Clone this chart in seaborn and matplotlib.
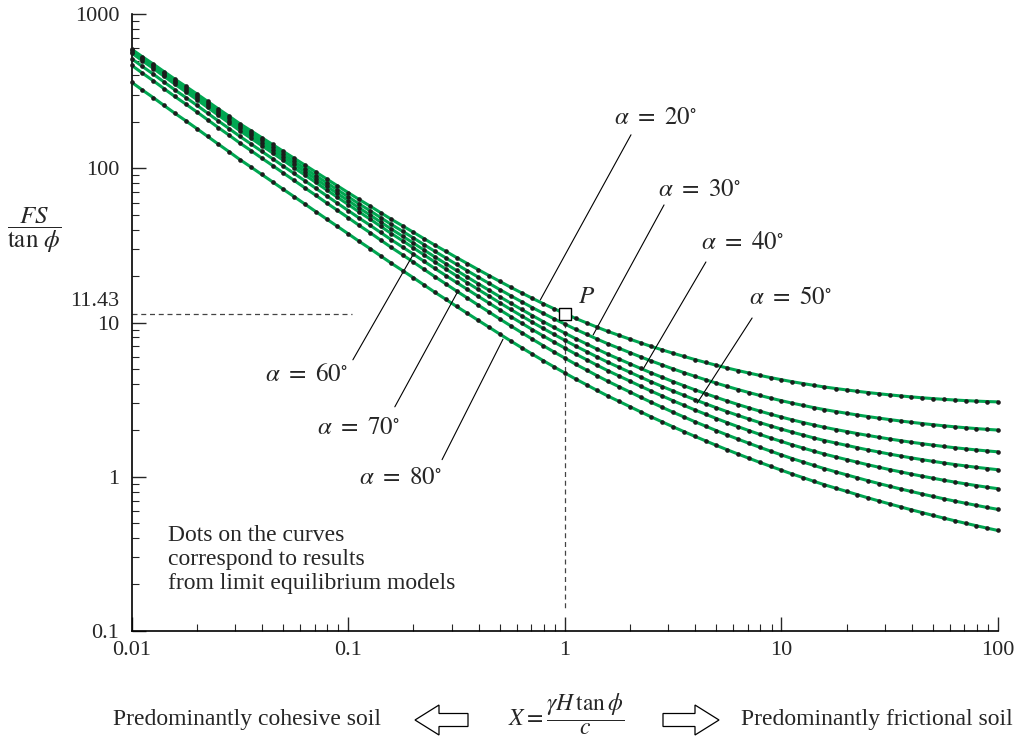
import numpy as np
import pandas as pd
import matplotlib
matplotlib.use('Agg')
import matplotlib.pyplot as plt
import seaborn as sns
from matplotlib.patches import FancyArrow
from matplotlib.ticker import LogLocator, NullFormatter

# X = gamma H tan(phi) / c, one point every 0.05 decade
x_vals = [0.01, 0.0112, 0.0126, 0.0141, 0.0158, 0.0178, 0.02, 0.0224, 0.0251, 0.0282,
          0.0316, 0.0355, 0.0398, 0.0447, 0.0501, 0.0562, 0.0631, 0.0708, 0.0794, 0.0891,
          0.1, 0.112, 0.126, 0.141, 0.158, 0.178, 0.2, 0.224, 0.251, 0.282,
          0.316, 0.355, 0.398, 0.447, 0.501, 0.562, 0.631, 0.708, 0.794, 0.891,
          1, 1.12, 1.26, 1.41, 1.58, 1.78, 2, 2.24, 2.51, 2.82,
          3.16, 3.55, 3.98, 4.47, 5.01, 5.62, 6.31, 7.08, 7.94, 8.91,
          10, 11.2, 12.6, 14.1, 15.8, 17.8, 20, 22.4, 25.1, 28.2,
          31.6, 35.5, 39.8, 44.7, 50.1, 56.2, 63.1, 70.8, 79.4, 89.1,
          100]

# FS / tan(phi)
fs_a20 = [591.6, 529.4, 473.7, 423.9, 379.3, 339.4, 303.7, 271.8, 243.2, 217.6,
          194.5, 175.5, 158.3, 142.8, 128.9, 116.3, 104.9, 94.6, 85.4, 77.0,
          69.5, 62.89, 56.93, 51.57, 46.73, 42.37, 38.45, 34.94, 31.78, 28.95,
          26.40, 24.10, 22.03, 20.15, 18.47, 16.94, 15.57, 14.35, 13.26, 12.29,
          11.43, 10.64, 9.945, 9.320, 8.758, 8.252, 7.795, 7.376, 6.992, 6.641,
          6.320, 6.025, 5.755, 5.507, 5.279, 5.071, 4.879, 4.703, 4.542, 4.393,
          4.257, 4.132, 4.018, 3.914, 3.819, 3.733, 3.654, 3.581, 3.514, 3.452,
          3.395, 3.342, 3.294, 3.250, 3.211, 3.176, 3.144, 3.117, 3.093, 3.073,
          3.057]
fs_a30 = [582.1, 519.9, 464.4, 414.8, 370.5, 330.9, 295.6, 264.0, 235.8, 210.6,
          188.1, 169.2, 152.2, 136.9, 123.2, 110.8, 99.7, 89.7, 80.7, 72.6,
          65.3, 58.89, 53.12, 47.94, 43.28, 39.08, 35.33, 31.96, 28.95, 26.25,
          23.83, 21.65, 19.69, 17.93, 16.35, 14.92, 13.64, 12.50, 11.48, 10.58,
          9.767, 9.040, 8.389, 7.804, 7.278, 6.804, 6.374, 5.983, 5.626, 5.300,
          5.003, 4.730, 4.481, 4.252, 4.043, 3.850, 3.674, 3.514, 3.367, 3.234,
          3.112, 3.001, 2.899, 2.807, 2.724, 2.648, 2.579, 2.515, 2.455, 2.399,
          2.347, 2.298, 2.254, 2.212, 2.174, 2.139, 2.107, 2.078, 2.052, 2.028,
          2.007]
fs_a40 = [571.5, 509.7, 454.6, 405.5, 361.6, 322.5, 287.7, 256.6, 228.8, 204.1,
          182.0, 163.3, 146.6, 131.5, 118.0, 105.9, 95.1, 85.3, 76.6, 68.7,
          61.7, 55.43, 49.85, 44.85, 40.36, 36.33, 32.72, 29.51, 26.63, 24.06,
          21.76, 19.69, 17.84, 16.18, 14.69, 13.35, 12.15, 11.09, 10.14, 9.294,
          8.540, 7.864, 7.260, 6.717, 6.230, 5.791, 5.395, 5.034, 4.707, 4.409,
          4.138, 3.890, 3.664, 3.457, 3.269, 3.096, 2.938, 2.794, 2.663, 2.544,
          2.436, 2.337, 2.247, 2.165, 2.091, 2.024, 1.963, 1.905, 1.852, 1.802,
          1.756, 1.713, 1.673, 1.637, 1.603, 1.571, 1.542, 1.516, 1.492, 1.470,
          1.450]
fs_a50 = [559.7, 498.4, 443.7, 395.1, 351.8, 313.2, 278.9, 248.3, 221.1, 196.9,
          175.2, 156.9, 140.5, 125.9, 112.7, 100.9, 90.4, 81.0, 72.5, 64.9,
          58.2, 52.22, 46.86, 42.06, 37.76, 33.92, 30.48, 27.42, 24.69, 22.25,
          20.07, 18.12, 16.38, 14.82, 13.42, 12.16, 11.04, 10.04, 9.159, 8.371,
          7.669, 7.041, 6.480, 5.977, 5.525, 5.119, 4.753, 4.421, 4.119, 3.845,
          3.595, 3.368, 3.161, 2.972, 2.799, 2.641, 2.496, 2.365, 2.245, 2.136,
          2.036, 1.945, 1.862, 1.786, 1.717, 1.654, 1.597, 1.543, 1.492, 1.446,
          1.402, 1.362, 1.325, 1.290, 1.258, 1.228, 1.200, 1.175, 1.151, 1.130,
          1.110]
fs_a60 = [514.1, 457.8, 407.6, 362.9, 323.1, 287.7, 256.2, 228.1, 203.1, 180.8,
          161.0, 144.1, 129.0, 115.5, 103.4, 92.6, 82.9, 74.2, 66.4, 59.4,
          53.2, 47.70, 42.77, 38.36, 34.42, 30.88, 27.73, 24.92, 22.41, 20.17,
          18.18, 16.39, 14.79, 13.36, 12.08, 10.93, 9.907, 8.997, 8.189, 7.469,
          6.827, 6.253, 5.740, 5.280, 4.868, 4.497, 4.162, 3.859, 3.584, 3.335,
          3.108, 2.901, 2.713, 2.541, 2.384, 2.241, 2.110, 1.991, 1.882, 1.783,
          1.693, 1.610, 1.534, 1.465, 1.402, 1.344, 1.291, 1.242, 1.195, 1.152,
          1.112, 1.075, 1.040, 1.008, 0.978, 0.949, 0.923, 0.899, 0.876, 0.855,
          0.836]
fs_a70 = [465.6, 414.6, 369.1, 328.7, 292.6, 260.6, 232.0, 206.6, 183.9, 163.8,
          145.8, 130.4, 116.6, 104.3, 93.3, 83.5, 74.6, 66.8, 59.7, 53.4,
          47.8, 42.75, 38.27, 34.27, 30.69, 27.48, 24.63, 22.09, 19.83, 17.81,
          16.01, 14.41, 12.97, 11.69, 10.54, 9.519, 8.606, 7.797, 7.080, 6.443,
          5.876, 5.370, 4.919, 4.516, 4.155, 3.831, 3.539, 3.274, 3.035, 2.817,
          2.619, 2.439, 2.275, 2.126, 1.989, 1.865, 1.751, 1.647, 1.552, 1.465,
          1.385, 1.312, 1.245, 1.184, 1.128, 1.076, 1.028, 0.984, 0.942, 0.903,
          0.867, 0.833, 0.802, 0.772, 0.745, 0.719, 0.695, 0.673, 0.652, 0.632,
          0.614]
fs_a80 = [361.4, 322.0, 286.9, 255.6, 227.8, 203.0, 180.8, 161.1, 143.6, 127.9,
          113.9, 102.0, 91.3, 81.7, 73.1, 65.5, 58.6, 52.4, 46.9, 42.0,
          37.6, 33.67, 30.17, 27.04, 24.24, 21.73, 19.50, 17.50, 15.71, 14.14,
          12.72, 11.46, 10.33, 9.315, 8.409, 7.597, 6.874, 6.233, 5.664, 5.158,
          4.707, 4.305, 3.946, 3.624, 3.336, 3.078, 2.844, 2.632, 2.440, 2.265,
          2.106, 1.960, 1.828, 1.707, 1.596, 1.495, 1.402, 1.317, 1.239, 1.168,
          1.102, 1.041, 0.986, 0.934, 0.887, 0.843, 0.803, 0.765, 0.729, 0.696,
          0.666, 0.637, 0.610, 0.585, 0.561, 0.539, 0.518, 0.499, 0.481, 0.464,
          0.448]

angles = [20, 30, 40, 50, 60, 70, 80]
series = [fs_a20, fs_a30, fs_a40, fs_a50, fs_a60, fs_a70, fs_a80]

x_ticks = [0.01, 0.1, 1, 10, 100]
x_ticklabels = ['0.01', '0.1', '1', '10', '100']
y_ticks = [0.1, 1, 10, 100, 1000]
y_ticklabels = ['0.1', '1', '10', '100', '1000']

# worked example point P
p_x, p_y = 1, 11.43

# label text position, leader start, leader end (data coords)
label_pos = {
    20: ((2.61, 212), (2.02, 165), (0.77, 14.0)),
    30: ((4.2, 72.4), (2.87, 57.9), (1.35, 8.3)),
    40: ((6.64, 32.9), (4.48, 24.7), (2.30, 5.0)),
    50: ((10.96, 14.5), (7.32, 10.7), (4.08, 3.0)),
    60: ((0.0638, 4.58), (0.105, 5.73), (0.199, 27.5)),
    70: ((0.111, 2.08), (0.164, 2.84), (0.318, 15.6)),
    80: ((0.174, 0.985), (0.271, 1.29), (0.518, 7.8)),
}

sns.set_style('ticks')
plt.rcParams['font.family'] = ['Liberation Serif', 'DejaVu Serif']
plt.rcParams['mathtext.fontset'] = 'stix'

df = pd.concat([pd.DataFrame({'X': x_vals, 'FS': vals, 'alpha': a})
                for a, vals in zip(angles, series)], ignore_index=True)

green = '#00a651'
fig = plt.figure(figsize=(10.21, 7.44), dpi=100)
ax = fig.add_axes([0.129, 0.152, 0.8485, 0.829])
ax.set(xscale='log', yscale='log')

sns.lineplot(data=df, x='X', y='FS', hue='alpha', palette={a: green for a in angles},
             legend=False, ax=ax, linewidth=2.2, sort=False)
sns.scatterplot(data=df, x='X', y='FS', color='#1c1c1c', s=11, linewidth=0,
                ax=ax, zorder=3, clip_on=False)

ax.set_xlim(0.01, 100)
ax.set_ylim(0.1, 1000)
ax.set_xticks(x_ticks)
ax.set_xticklabels(x_ticklabels)
ax.set_yticks(y_ticks)
ax.set_yticklabels(y_ticklabels)
ax.xaxis.set_minor_locator(LogLocator(base=10, subs=range(2, 10)))
ax.yaxis.set_minor_locator(LogLocator(base=10, subs=range(2, 10)))
ax.xaxis.set_minor_formatter(NullFormatter())
ax.yaxis.set_minor_formatter(NullFormatter())
ax.tick_params(which='major', direction='in', length=10, width=1, labelsize=16)
ax.tick_params(which='minor', direction='in', length=5, width=0.8)
ax.tick_params(axis='x', pad=7)
ax.tick_params(axis='y', pad=9)
ax.set_xlabel('')
ax.set_ylabel('')
sns.despine(ax=ax)
for sp in ['left', 'bottom']:
    ax.spines[sp].set_linewidth(1.2)
    ax.spines[sp].set_color('black')

# dashed construction lines through P
ax.plot([0.01, 0.104], [p_y, p_y], ls=(0, (4, 3)), color='#444444', lw=0.9)
ax.plot([p_x, p_x], [p_y, 0.137], ls=(0, (4, 3)), color='#444444', lw=0.9)
ax.scatter([p_x], [p_y], marker='s', s=80, facecolor='white', edgecolor='black',
           linewidth=1.0, zorder=6)
ax.text(1.15, 14.7, r'$P$', fontsize=18, ha='left', va='center')
ax.annotate('11.43', xy=(0, p_y), xycoords=('axes fraction', 'data'),
            xytext=(-9, 9), textcoords='offset points', ha='right', va='center',
            fontsize=16)

for a in angles:
    (tx, ty), (sx, sy), (ex, ey) = label_pos[a]
    ax.plot([sx, ex], [sy, ey], color='black', lw=0.8)
    ax.text(tx, ty, r'$\alpha\ =\ %d^{\circ}$' % a, fontsize=18, ha='center', va='center')

ax.text(0.0147, 0.29, 'Dots on the curves\ncorrespond to results\nfrom limit equilibrium models',
        fontsize=17, ha='left', va='center', linespacing=1.2)

fig.text(34 / 1021, 1 - 230 / 744, r'$\dfrac{FS}{\tan\,\phi}$', ha='center', va='center',
         fontsize=18)

row_y = 1 - 720 / 744
fig.text(247 / 1021, row_y, 'Predominantly cohesive soil', ha='center', va='center', fontsize=17)
fig.text(877 / 1021, row_y, 'Predominantly frictional soil', ha='center', va='center', fontsize=17)
fig.text(566 / 1021, 1 - 715 / 744, r'$X = \dfrac{\gamma H\,\tan\phi}{c}$', ha='center',
         va='center', fontsize=17)

arrow_kw = dict(width=0.13, head_width=0.30, head_length=0.24, length_includes_head=True,
                facecolor='white', edgecolor='black', lw=0.9, transform=fig.dpi_scale_trans)
fig.add_artist(FancyArrow(4.68, 0.24, -0.53, 0, **arrow_kw))
fig.add_artist(FancyArrow(6.63, 0.24, 0.56, 0, **arrow_kw))

fig.savefig('out.png', dpi=100)
